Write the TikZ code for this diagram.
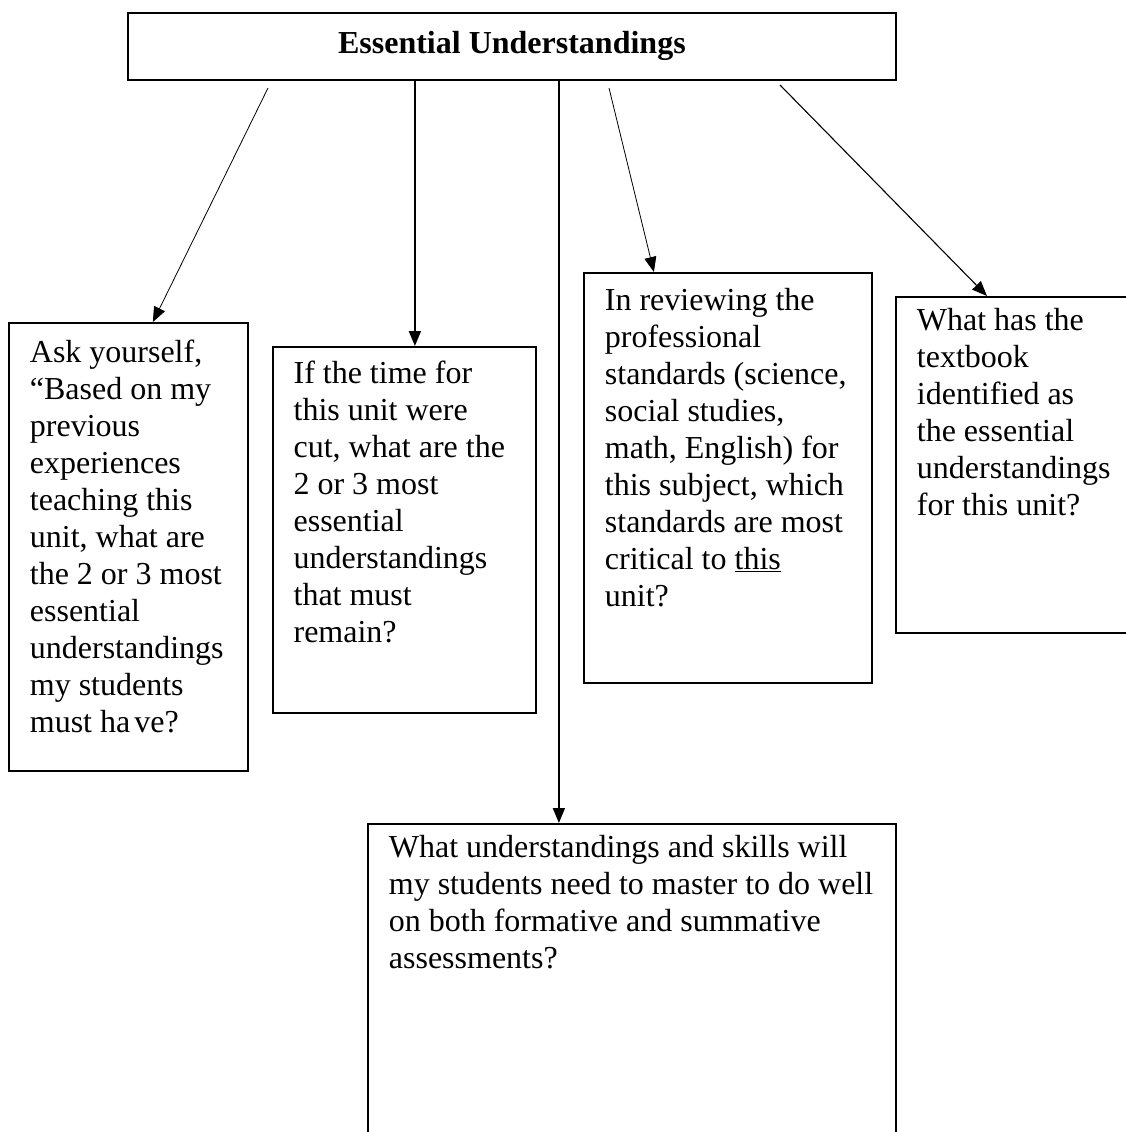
\documentclass[tikz,border=0pt]{standalone}
\usepackage{fontspec}
\setmainfont{Liberation Serif}
\usetikzlibrary{arrows.meta,positioning,calc}
\newcommand{\qfont}{\fontsize{32}{37}\selectfont}
% top-aligned question text in a box of fixed size (width, height, first baseline, text)
\newcommand{\qtext}[4]{\parbox[c][#2][t]{#1}{\leftskip=21pt\rightskip=0pt plus 1fil\rule{0pt}{#3}#4}}

\begin{document}
\begin{tikzpicture}[x=1pt,y=-1pt,>={Triangle[length=15pt,width=12pt]},
  hdr/.style={draw,line width=1.8pt,anchor=north west,minimum width=768pt,minimum height=67pt,inner sep=0pt,font=\qfont\bfseries},
  qb/.style={draw,line width=1.8pt,anchor=north west,inner sep=0pt,font=\qfont},
  ln/.style={->,line width=0.8pt},
  vln/.style={->,line width=1.8pt}]
\useasboundingbox (0,0) rectangle (1126,1132);
\clip (0,0) rectangle (1126,1132);

% ===== header =====
\node[hdr] (eu) at (127,12) {Essential Understandings};

% ===== question boxes =====
\node[qb] (ask) at (8,322) {\qtext{239pt}{448pt}{40pt}{Ask yourself,\\``Based on my\\previous\\experiences\\teaching this\\unit, what are\\the 2 or 3 most\\essential\\understandings\\my students\\must ha\kern4pt ve?}};
\node[qb] (cut) at (271.7,346) {\qtext{263pt}{366pt}{37pt}{If the time for\\this unit were\\cut, what are the\\2 or 3 most\\essential\\understandings\\that must\\remain?}};
\node[qb] (std) at (583,272) {\qtext{288pt}{410pt}{38pt}{In reviewing the\\professional\\standards (science,\\social studies,\\math, English) for\\this subject, which\\standards are most\\critical to \underline{this}\\unit?}};
\node[qb] (book) at (895,296) {\qtext{300pt}{336pt}{34pt}{What has the\\textbook\\identified as\\the essential\\understandings\\for this unit?}};
\node[qb] (skill) at (367,823) {\qtext{528pt}{400pt}{34pt}{What understandings and skills will\\my students need to master to do well\\on both formative and summative\\assessments?}};

% ===== arrows =====
\coordinate (s1) at (268,88);
\coordinate (s4) at (609,88);
\coordinate (s5) at (780,85);
\coordinate (t2) at ([xshift=-97pt]eu.south);
\coordinate (t3) at ([xshift=47pt]eu.south);
\draw[ln] (s1) -- ([xshift=24.5pt]ask.north);
\draw[vln] (t2) -- (t2 |- cut.north);
\draw[vln] (t3) -- (t3 |- skill.north);
\draw[ln] (s4) -- ([xshift=-74pt]std.north);
\draw[ln,line width=1.1pt] (s5) -- ([xshift=92pt]book.north west);
\end{tikzpicture}
\end{document}
